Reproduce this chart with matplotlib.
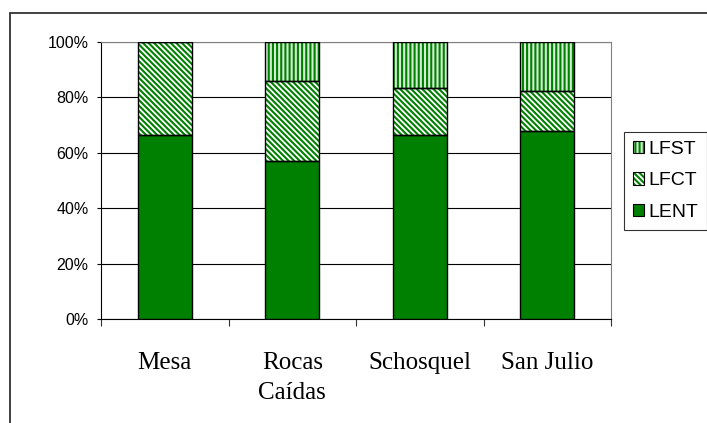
import matplotlib.pyplot as plt
import numpy as np
from matplotlib.patches import Patch, Rectangle
from matplotlib.legend_handler import HandlerTuple
from matplotlib.ticker import PercentFormatter

# Data (share of each site, %)
sites = ['Mesa', 'Rocas\nCaídas', 'Schosquel', 'San Julio']
lent = [66.5, 57.1, 66.5, 67.9]
lfct = [33.5, 28.8, 16.8, 14.3]
lfst = [0.0, 14.1, 16.7, 17.8]

seriesNames = ['LENT', 'LFCT', 'LFST']
seriesValues = [lent, lfct, lfst]

green = '#008000'
faces = [green, 'white', '#d4eed4']
hatches = [None, '\\' * 6, '||||']

plt.rcParams['hatch.linewidth'] = 1.5

fig = plt.figure(figsize=(7.07, 4.23), dpi=100)
ax = fig.add_axes([101 / 707, 1 - 319 / 423, 510 / 707, 277 / 423])

x = np.arange(len(sites))
bottom = np.zeros(len(sites))
handles = []
for name, vals, face, hatch in zip(seriesNames, seriesValues, faces, hatches):
    vals = np.array(vals)
    ax.bar(x, vals, width=0.42, bottom=bottom, facecolor=face, edgecolor=green,
           hatch=hatch, linewidth=0, zorder=3)
    ax.bar(x, vals, width=0.42, bottom=bottom, fill=False, edgecolor='black',
           linewidth=1.0, zorder=4)
    bottom += vals
    fillPatch = Patch(facecolor=face, edgecolor=green, hatch=hatch, linewidth=0)
    edgePatch = Patch(facecolor='none', edgecolor='black', linewidth=0.8)
    handles.append((fillPatch, edgePatch))

ax.set_xlim(-0.5, len(sites) - 0.5)
ax.set_ylim(0, 100)
ax.set_yticks(np.arange(0, 101, 20))
ax.yaxis.set_major_formatter(PercentFormatter(decimals=0))
ax.yaxis.grid(True, color='black', linewidth=0.8, zorder=0)
ax.set_axisbelow(True)

# category boundaries carry the tick marks, the centres carry the labels
ax.set_xticks(np.arange(len(sites) + 1) - 0.5)
ax.set_xticklabels([])
ax.set_xticks(x, minor=True)
ax.set_xticklabels(sites, minor=True, fontfamily='Liberation Serif',
                   fontsize=18, linespacing=1.45)
ax.tick_params(axis='x', which='major', direction='out', length=5,
               width=0.8, color='#333333')
ax.tick_params(axis='x', which='minor', length=0, pad=24)
ax.tick_params(axis='y', direction='out', length=3, width=0.8, pad=6,
               labelsize=11.5)
for lab in ax.get_yticklabels():
    lab.set_fontfamily('Liberation Sans')

ax.spines['left'].set_color('black')
ax.spines['bottom'].set_color('black')
ax.spines['top'].set_color('#808080')
ax.spines['right'].set_color('#808080')
for sp in ax.spines.values():
    sp.set_linewidth(0.8)

leg = fig.legend(handles[::-1], seriesNames[::-1],
                 handler_map={tuple: HandlerTuple(ndivide=1)},
                 loc='upper left', bbox_to_anchor=(624 / 707, 1 - 132 / 423),
                 borderaxespad=0, fancybox=False, edgecolor='black',
                 prop={'family': 'Liberation Sans', 'size': 14},
                 handlelength=0.6, handleheight=0.6, handletextpad=0.2,
                 labelspacing=0.75, borderpad=0.45)
leg.get_frame().set_linewidth(0.8)

# outer chart border (cut off at right and bottom in the reference)
fig.patches.append(Rectangle((10 / 707, -0.2), 1.2, 1.2 - 13 / 423,
                             transform=fig.transFigure, fill=False,
                             edgecolor='#333333', linewidth=1.3))

fig.savefig('out.png', dpi=100)
